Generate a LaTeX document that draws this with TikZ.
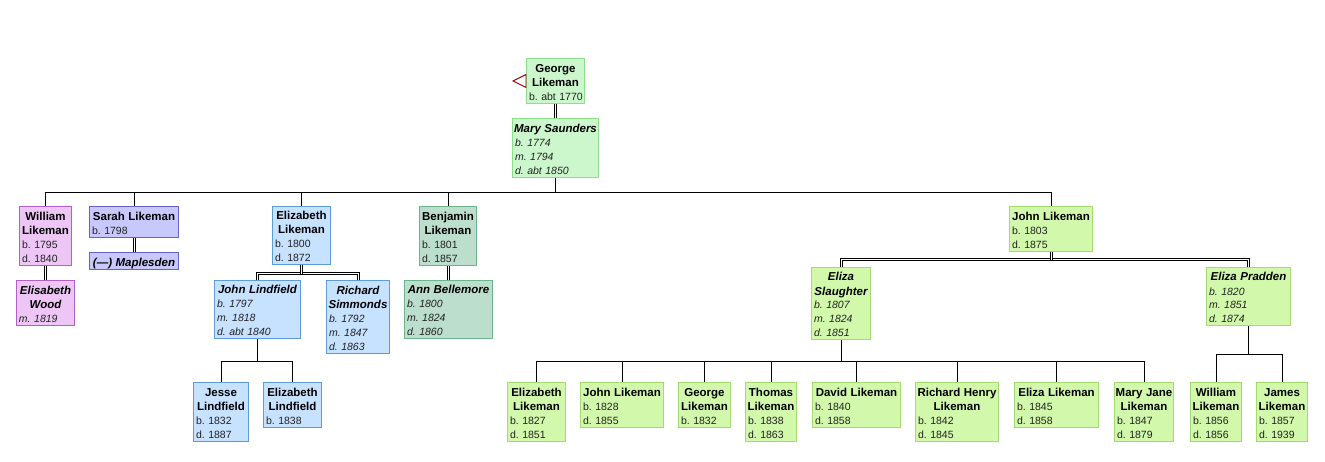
\documentclass[tikz,border=0pt]{standalone}
\usepackage{fontspec}
\setmainfont{Liberation Sans}
\definecolor{gaF}{HTML}{CCF7CC}\definecolor{gaD}{HTML}{8CE08C}
\definecolor{puF}{HTML}{EDC6F5}\definecolor{puD}{HTML}{B060C8}
\definecolor{blF}{HTML}{C8C8FC}\definecolor{blD}{HTML}{6464C0}
\definecolor{skF}{HTML}{C6E2FF}\definecolor{skD}{HTML}{5C9CD8}
\definecolor{teF}{HTML}{BCDECC}\definecolor{teD}{HTML}{6DB38C}
\definecolor{liF}{HTML}{D2F8AC}\definecolor{liD}{HTML}{A4DC70}
\definecolor{txt}{HTML}{222222}
\tikzset{
  rootbox/.style={fill=gaF,draw=gaD},
  purplebox/.style={fill=puF,draw=puD},
  bluebox/.style={fill=blF,draw=blD},
  skybox/.style={fill=skF,draw=skD},
  tealbox/.style={fill=teF,draw=teD},
  limebox/.style={fill=liF,draw=liD},
  link/.style={draw=black,line width=1pt},
  dline/.style={draw=black,line width=0.9pt},
}
\newcommand\nm[1]{\makebox[\linewidth]{\fontsize{11.5}{14}\selectfont\bfseries\color{black}#1}}
\newcommand\sn[1]{\makebox[\linewidth]{\fontsize{11.5}{14}\selectfont\bfseries\itshape\color{black}#1}}
\newcommand\dt[1]{\mbox{\fontsize{10.5}{14}\selectfont\frenchspacing\color{txt}#1}}
\newcommand\di[1]{\mbox{\fontsize{10.5}{14}\selectfont\frenchspacing\itshape\color{txt}#1}}
\newcommand\pers[7]{%
  \pgfmathsetmacro\bxw{#4-#2-1}\pgfmathsetmacro\bxh{#5-#3-1}%
  \pgfmathsetmacro\bcx{(#2+#4)/2}\pgfmathsetmacro\bcy{(#3+#5)/2}%
  \pgfmathsetmacro\btw{\bxw-5}%
  \node[#6,line width=1pt,inner sep=0pt,minimum width=\bxw pt,minimum height=\bxh pt,
    text width=\btw pt,align=left,font=\fontsize{10.5}{14}\selectfont] (#1) at (\bcx,\bcy)
    {\rule{0pt}{13pt}#7\rule[-2pt]{0pt}{2pt}};}
% straight double link between two named nodes
\newcommand\dstraight[2]{%
  \draw[dline] ([xshift=-1pt]#1.south) -- ([xshift=-1pt]#1.south |- #2.north);
  \draw[dline] ([xshift=1pt]#1.south) -- ([xshift=1pt]#1.south |- #2.north);}
% double branch: parent, child, bar coordinate, side of the outer line (-1 left, 1 right)
\newcommand\dbranch[4]{%
  \draw[dline] ([xshift=#4 pt]#1.south) -- ([xshift=#4 pt,yshift=1pt]#1.south |- #3)
     -- ([xshift=#4 pt,yshift=1pt]#2.north |- #3) -- ([xshift=#4 pt]#2.north);
  \draw[dline] ([xshift=-#4 pt]#1.south) -- ([xshift=-#4 pt,yshift=-1pt]#1.south |- #3)
     -- ([xshift=-#4 pt,yshift=-1pt]#2.north |- #3) -- ([xshift=-#4 pt]#2.north);}
\begin{document}
\begin{tikzpicture}[x=1pt,y=-1pt]
\useasboundingbox (0,0) rectangle (1325,462);
\fill[white] (0,0) rectangle (1325,462);
\coordinate (topbar) at (0,192.5);
\coordinate (elizbar) at (0,273);
\coordinate (johnbar) at (0,259);
\coordinate (lindbar) at (0,361.5);
\coordinate (slaubar) at (0,361.5);
\coordinate (pradbar) at (0,354.5);
\pers{george}{526}{58}{585}{104}{rootbox}{\nm{George}\\\nm{Likeman}\\\dt{b. abt 1770}}
\pers{mary}{512}{118}{599}{178}{rootbox}{\sn{Mary Saunders}\\\di{b. 1774}\\\di{m. 1794}\\\di{d. abt 1850}}
\pers{william}{19}{206}{72}{266}{purplebox}{\nm{William}\\\nm{Likeman}\\\dt{b. 1795}\\\dt{d. 1840}}
\pers{elisabeth}{16}{280}{75}{326}{purplebox}{\sn{Elisabeth}\\\sn{Wood}\\\di{m. 1819}}
\pers{sarah}{89}{206}{179}{238}{bluebox}{\nm{Sarah Likeman}\\\dt{b. 1798}}
\pers{maplesden}{89}{252}{179}{270}{bluebox}{\sn{(—) Maplesden}}
\pers{elizabeth}{272}{206}{331}{265}{skybox}{\nm{Elizabeth}\\\nm{Likeman}\\\dt{b. 1800}\\\dt{d. 1872}}
\pers{jlind}{214}{280}{301}{339}{skybox}{\sn{John Lindfield}\\\di{b. 1797}\\\di{m. 1818}\\\di{d. abt 1840}}
\pers{richard}{326}{280}{390}{354}{skybox}{\sn{Richard}\\\sn{Simmonds}\\\di{b. 1792}\\\di{m. 1847}\\\di{d. 1863}}
\pers{jesse}{193}{382}{249}{442}{skybox}{\nm{Jesse}\\\nm{Lindfield}\\\dt{b. 1832}\\\dt{d. 1887}}
\pers{elind}{263}{382}{322}{428}{skybox}{\nm{Elizabeth}\\\nm{Lindfield}\\\dt{b. 1838}}
\pers{benjamin}{419}{206}{477}{266}{tealbox}{\nm{Benjamin}\\\nm{Likeman}\\\dt{b. 1801}\\\dt{d. 1857}}
\pers{ann}{404}{280}{493}{339}{tealbox}{\sn{Ann Bellemore}\\\di{b. 1800}\\\di{m. 1824}\\\di{d. 1860}}
\pers{john}{1009}{206}{1093}{252}{limebox}{\nm{John Likeman}\\\dt{b. 1803}\\\dt{d. 1875}}
\pers{slaughter}{811}{267}{871}{340}{limebox}{\sn{Eliza}\\\sn{Slaughter}\\\di{b. 1807}\\\di{m. 1824}\\\di{d. 1851}}
\pers{pradden}{1206}{267}{1291}{326}{limebox}{\sn{Eliza Pradden}\\\di{b. 1820}\\\di{m. 1851}\\\di{d. 1874}}
\pers{c1}{507}{382}{566}{442}{limebox}{\nm{Elizabeth}\\\nm{Likeman}\\\dt{b. 1827}\\\dt{d. 1851}}
\pers{c2}{580}{382}{664}{428}{limebox}{\nm{John Likeman}\\\dt{b. 1828}\\\dt{d. 1855}}
\pers{c3}{678}{382}{731}{428}{limebox}{\nm{George}\\\nm{Likeman}\\\dt{b. 1832}}
\pers{c4}{745}{382}{797}{442}{limebox}{\nm{Thomas}\\\nm{Likeman}\\\dt{b. 1838}\\\dt{d. 1863}}
\pers{c5}{812}{382}{901}{428}{limebox}{\nm{David Likeman}\\\dt{b. 1840}\\\dt{d. 1858}}
\pers{c6}{915}{382}{999}{442}{limebox}{\nm{Richard Henry}\\\nm{Likeman}\\\dt{b. 1842}\\\dt{d. 1845}}
\pers{c7}{1014}{382}{1099}{428}{limebox}{\nm{Eliza Likeman}\\\dt{b. 1845}\\\dt{d. 1858}}
\pers{c8}{1114}{382}{1174}{442}{limebox}{\nm{Mary Jane}\\\nm{Likeman}\\\dt{b. 1847}\\\dt{d. 1879}}
\pers{d1}{1190}{382}{1242}{442}{limebox}{\nm{William}\\\nm{Likeman}\\\dt{b. 1856}\\\dt{d. 1856}}
\pers{d2}{1256}{382}{1308}{442}{limebox}{\nm{James}\\\nm{Likeman}\\\dt{b. 1857}\\\dt{d. 1939}}
% marker
\draw[draw=red!60!black,fill=white,line width=0.9pt,line join=miter]
  ([yshift=6.5pt]george.west) -- ([xshift=-13pt]george.west) -- ([yshift=-6.5pt]george.west) -- cycle;
% spouse links
\dstraight{george}{mary}
\dstraight{william}{elisabeth}
\dstraight{sarah}{maplesden}
\dstraight{benjamin}{ann}
\dbranch{elizabeth}{jlind}{elizbar}{-1}
\dbranch{elizabeth}{richard}{elizbar}{1}
\dbranch{john}{slaughter}{johnbar}{-1}
\dbranch{john}{pradden}{johnbar}{1}
% child links
\foreach \k in {william,sarah,elizabeth,benjamin,john}
  \draw[link] (mary.south) -- (mary.south |- topbar) -| (\k.north);
\foreach \k in {jesse,elind}
  \draw[link] (jlind.south) -- (jlind.south |- lindbar) -| (\k.north);
\foreach \k in {c1,c2,c3,c4,c5,c6,c7,c8}
  \draw[link] (slaughter.south) -- (slaughter.south |- slaubar) -| (\k.north);
\foreach \k in {d1,d2}
  \draw[link] (pradden.south) -- (pradden.south |- pradbar) -| (\k.north);
\end{tikzpicture}
\end{document}
